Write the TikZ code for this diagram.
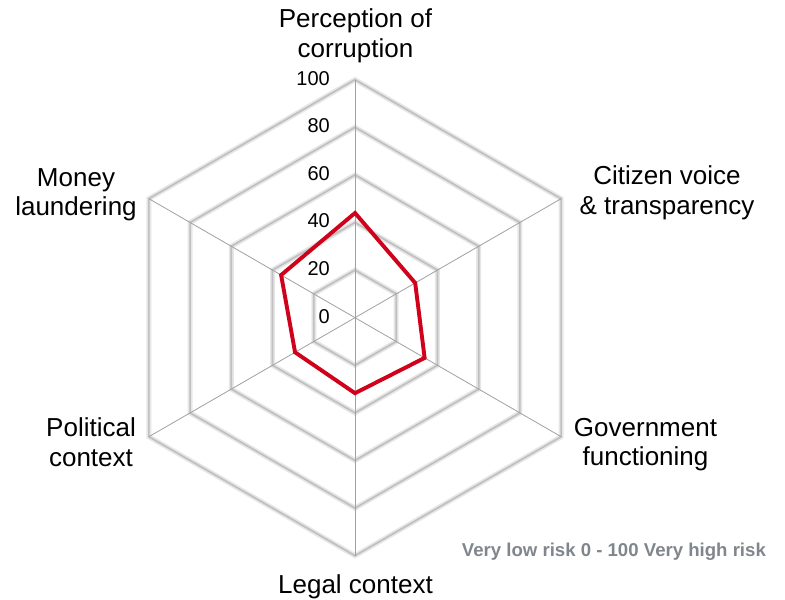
\documentclass[tikz,border=0pt]{standalone}
\usepackage{fontspec}
\setmainfont{Liberation Sans}
\usepackage{xcolor}
\usepackage{tikz}
\usetikzlibrary{positioning}

\definecolor{riskred}{RGB}{208,2,27}
\definecolor{ringgrey}{RGB}{192,192,192}
\definecolor{ringshade}{RGB}{230,230,230}
\definecolor{spokegrey}{RGB}{160,160,160}
\definecolor{notegrey}{RGB}{128,134,139}

\begin{document}
\begin{tikzpicture}[x=1pt,y=1pt,
  ring/.style={draw=ringgrey, line width=1.7pt, line join=miter},
  haze/.style={draw=ringshade, line width=5pt, line join=miter},
  spoke/.style={draw=spokegrey, line width=0.8pt},
  axislabel/.style={font=\fontsize{26}{29.5}\selectfont, align=center},
  tick/.style={font=\fontsize{20}{24}\selectfont, anchor=east, inner sep=0pt},
  score/.style={draw=riskred, line width=3.9pt, line join=miter}]
\useasboundingbox (0,0) rectangle (785,600);
\coordinate (o) at (355,282.3);
\begin{scope}[shift={(o)}]
\draw[haze] (90:47.6) -- (30:47.6) -- (-30:47.6) -- (-90:47.6) -- (-150:47.6) -- (150:47.6) -- cycle;
\draw[haze] (90:95.2) -- (30:95.2) -- (-30:95.2) -- (-90:95.2) -- (-150:95.2) -- (150:95.2) -- cycle;
\draw[haze] (90:142.8) -- (30:142.8) -- (-30:142.8) -- (-90:142.8) -- (-150:142.8) -- (150:142.8) -- cycle;
\draw[haze] (90:190.4) -- (30:190.4) -- (-30:190.4) -- (-90:190.4) -- (-150:190.4) -- (150:190.4) -- cycle;
\draw[haze] (90:238) -- (30:238) -- (-30:238) -- (-90:238) -- (-150:238) -- (150:238) -- cycle;
\draw[ring] (90:47.6) -- (30:47.6) -- (-30:47.6) -- (-90:47.6) -- (-150:47.6) -- (150:47.6) -- cycle;
\draw[ring] (90:95.2) -- (30:95.2) -- (-30:95.2) -- (-90:95.2) -- (-150:95.2) -- (150:95.2) -- cycle;
\draw[ring] (90:142.8) -- (30:142.8) -- (-30:142.8) -- (-90:142.8) -- (-150:142.8) -- (150:142.8) -- cycle;
\draw[ring] (90:190.4) -- (30:190.4) -- (-30:190.4) -- (-90:190.4) -- (-150:190.4) -- (150:190.4) -- cycle;
\draw[ring] (90:238) -- (30:238) -- (-30:238) -- (-90:238) -- (-150:238) -- (150:238) -- cycle;
\coordinate (a1) at (90:238);
\coordinate (a2) at (30:238);
\coordinate (a3) at (-30:238);
\coordinate (a4) at (-90:238);
\coordinate (a5) at (-150:238);
\coordinate (a6) at (150:238);
\draw[spoke] (o) -- (a1);
\draw[spoke] (o) -- (a2);
\draw[spoke] (o) -- (a3);
\draw[spoke] (o) -- (a4);
\draw[spoke] (o) -- (a5);
\draw[spoke] (o) -- (a6);
\coordinate (d1) at (90:104.7);
\coordinate (d2) at (30:69.5);
\coordinate (d3) at (-30:80.4);
\coordinate (d4) at (-90:75.5);
\coordinate (d5) at (-150:69.2);
\coordinate (d6) at (150:85.3);
\draw[score] (d1) -- (d2) -- (d3) -- (d4) -- (d5) -- (d6) -- cycle;
\node[tick] (t0) at (-25,1.5) {0};
\node[tick] (t20) at (-25,49.1) {20};
\node[tick] (t40) at (-25,96.7) {40};
\node[tick] (t60) at (-25,144.3) {60};
\node[tick] (t80) at (-25,191.9) {80};
\node[tick] (t100) at (-25,239.5) {100};
\end{scope}
\node[axislabel] (perception) at (355.5,564) {Perception of\\corruption};
\node[axislabel] (citizen) at (667,407) {Citizen voice\\\& transparency};
\node[axislabel] (government) at (645.5,155.2) {Government\\functioning};
\node[axislabel] (legal) at (355.5,13.4) {Legal context};
\node[axislabel] (political) at (91,157.8) {Political\\context};
\node[axislabel] (money) at (76,405.2) {Money\\laundering};
\node[anchor=base west, inner sep=0pt, text=notegrey, font=\fontsize{18.6}{22}\selectfont\bfseries] (note) at (461.7,43.3) {Very low risk 0 - 100 Very high risk};
\end{tikzpicture}
\end{document}
